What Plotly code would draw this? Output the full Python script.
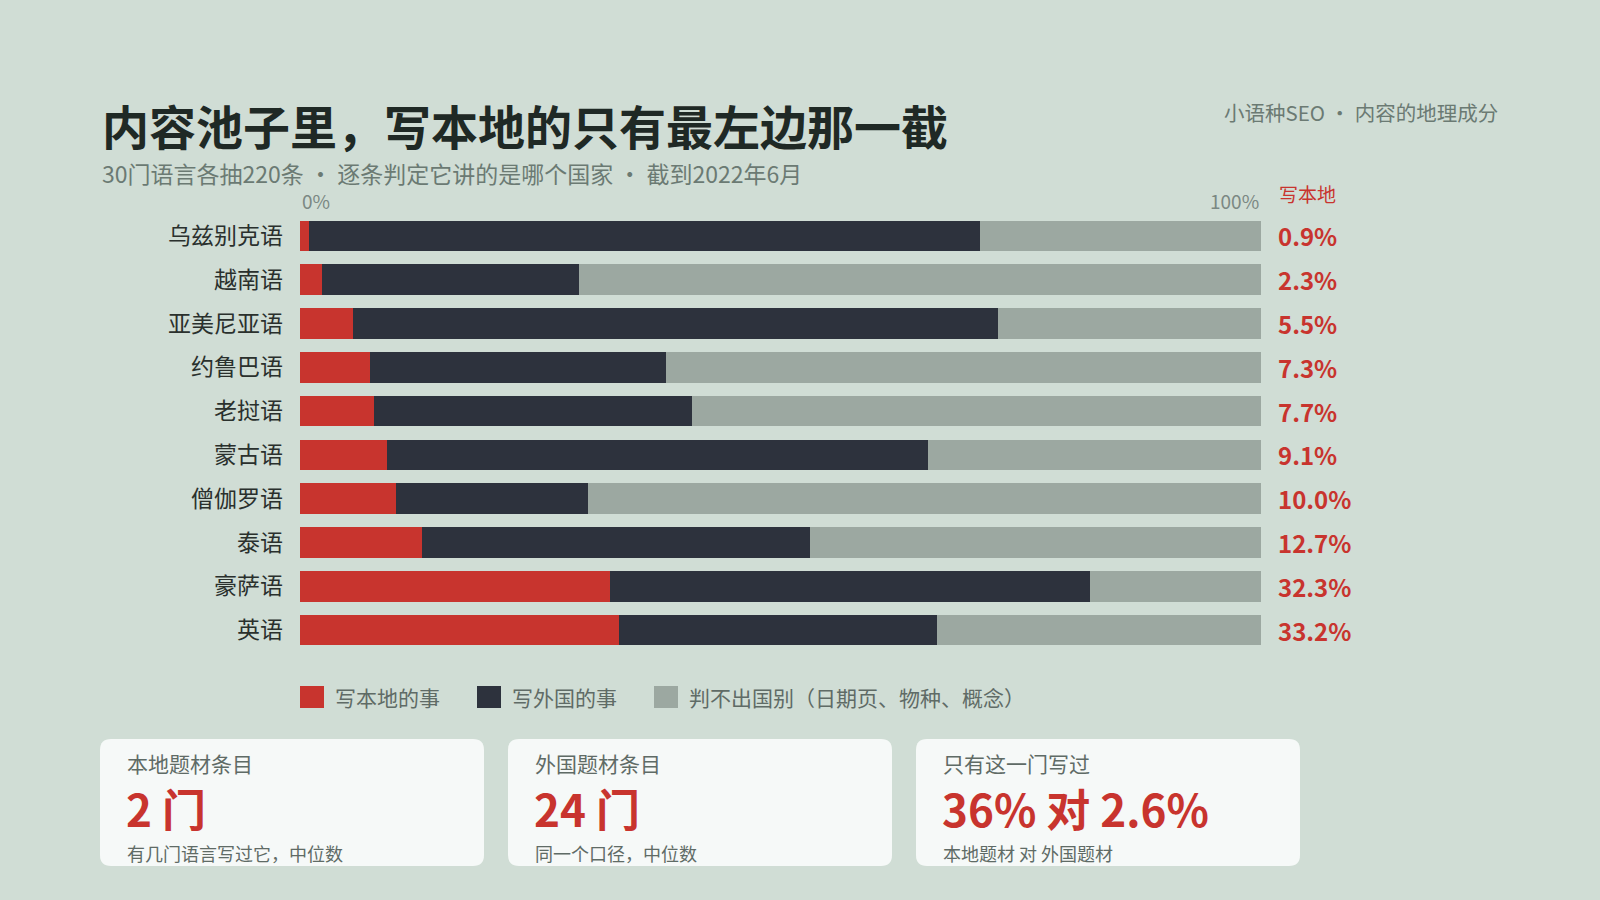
import plotly.graph_objects as go

W, H = 1600, 900

languages = ["乌兹别克语", "越南语", "亚美尼亚语", "约鲁巴语", "老挝语",
             "蒙古语", "僧伽罗语", "泰语", "豪萨语", "英语"]
local_pct = [0.9, 2.3, 5.5, 7.3, 7.7, 9.1, 10.0, 12.7, 32.3, 33.2]
foreign_pct = [69.9, 26.7, 67.1, 30.8, 33.1, 56.2, 20.0, 40.4, 49.9, 33.1]
unknown_pct = [29.2, 71.0, 27.4, 61.9, 59.2, 34.7, 70.0, 46.9, 17.8, 33.7]

series_names = ["写本地的事", "写外国的事", "判不出国别（日期页、物种、概念）"]
series_colors = ["#c8342e", "#2d323d", "#9ca8a1"]

card_labels = ["本地题材条目", "外国题材条目", "只有这一门写过"]
card_values = ["2 门", "24 门", "36% 对 2.6%"]
card_notes = ["有几门语言写过它，中位数", "同一个口径，中位数", "本地题材 对 外国题材"]

BG = "#d0ddd5"
FONT = "Noto Sans CJK SC"
GREY_TXT = "#5f6b66"


def px(x):
    return x / W


def py(y):
    return 1 - y / H


def rounded_rect(x0, y0, x1, y1, r):
    # pixel box -> svg path in paper coords
    rx, ry = r / W, r / H
    a, b, c, d = px(x0), py(y1), px(x1), py(y0)  # left, bottom, right, top
    return (f"M{a + rx},{b} L{c - rx},{b} Q{c},{b} {c},{b + ry} "
            f"L{c},{d - ry} Q{c},{d} {c - rx},{d} "
            f"L{a + rx},{d} Q{a},{d} {a},{d - ry} "
            f"L{a},{b + ry} Q{a},{b} {a + rx},{b} Z")


fig = go.Figure()
for name, vals, col in zip(series_names, [local_pct, foreign_pct, unknown_pct], series_colors):
    fig.add_trace(go.Bar(
        y=languages, x=vals, name=name, orientation="h",
        marker=dict(color=col, line=dict(width=0)),
        width=0.7, showlegend=False, hoverinfo="skip",
    ))

BAR_X0, BAR_X1 = 300, 1261
ROW_TOP, ROW_BOT = 214, 652

fig.update_layout(
    width=W, height=H,
    barmode="stack",
    paper_bgcolor=BG, plot_bgcolor="rgba(0,0,0,0)",
    margin=dict(l=0, r=0, t=0, b=0),
    font=dict(family=FONT, color="#2a302d"),
    xaxis=dict(range=[0, 100], domain=[px(BAR_X0), px(BAR_X1)], visible=False, fixedrange=True),
    yaxis=dict(type="category", categoryorder="array", categoryarray=languages,
               autorange="reversed", domain=[py(ROW_BOT), py(ROW_TOP)],
               showgrid=False, zeroline=False, showline=False, ticks="",
               tickfont=dict(size=23, color="#2a302d", family=FONT),
               ticklabelstandoff=16, fixedrange=True),
)

ann = []
# title block
ann.append(dict(x=px(100), y=py(125), text="<b>内容池子里，写本地的只有最左边那一截</b>",
                font=dict(size=47, color="#1f2925"), xanchor="left", yanchor="middle"))
ann.append(dict(x=px(100), y=py(173),
                text="30门语言各抽220条 ・ 逐条判定它讲的是哪个国家 ・ 截到2022年6月",
                font=dict(size=23, color="#6b7a73"), xanchor="left", yanchor="middle"))
ann.append(dict(x=px(1500), y=py(112), text="小语种SEO ・ 内容的地理成分",
                font=dict(size=20.5, color="#6b7a73"), xanchor="right", yanchor="middle"))

# axis end labels and column header
ann.append(dict(x=px(BAR_X0), y=py(200), text="0%", font=dict(size=19, color="#7b8883"),
                xanchor="left", yanchor="middle"))
ann.append(dict(x=px(BAR_X1), y=py(200), text="100%", font=dict(size=19, color="#7b8883"),
                xanchor="right", yanchor="middle"))
ann.append(dict(x=px(1277), y=py(193), text="写本地", font=dict(size=19, color="#c8342e"),
                xanchor="left", yanchor="middle"))

# local share values on the right
for lang, v in zip(languages, local_pct):
    ann.append(dict(x=px(1276), xref="paper", y=lang, yref="y", text=f"<b>{v:.1f}%</b>",
                    font=dict(size=24, color="#c8342e"), xanchor="left", yanchor="middle",
                    showarrow=False))

shapes = []
# legend
legend_x = [300, 477, 654]
for lx, name, col in zip(legend_x, series_names, series_colors):
    shapes.append(dict(type="rect", xref="paper", yref="paper",
                       x0=px(lx), x1=px(lx + 24), y0=py(708), y1=py(686),
                       fillcolor=col, line=dict(width=0)))
    ann.append(dict(x=px(lx + 33), y=py(697), text=name, font=dict(size=21, color=GREY_TXT),
                    xanchor="left", yanchor="middle"))

# stat cards
card_x = [100, 508, 916]
for cx, lab, val, note in zip(card_x, card_labels, card_values, card_notes):
    shapes.append(dict(type="path", xref="paper", yref="paper",
                       path=rounded_rect(cx, 739, cx + 384, 866, 11),
                       fillcolor="#f6f9f8", line=dict(width=0)))
    ann.append(dict(x=px(cx + 25), y=py(763), text=lab, font=dict(size=21, color=GREY_TXT),
                    xanchor="left", yanchor="middle"))
    ann.append(dict(x=px(cx + 24), y=py(808), text=f"<b>{val}</b>",
                    font=dict(size=44, color="#c8342e"), xanchor="left", yanchor="middle"))
    ann.append(dict(x=px(cx + 25), y=py(853), text=note, font=dict(size=18, color=GREY_TXT),
                    xanchor="left", yanchor="middle"))

for a in ann:
    a.setdefault("xref", "paper")
    a.setdefault("yref", "paper")
    a.setdefault("showarrow", False)

fig.update_layout(annotations=ann, shapes=shapes)

fig.write_html(
    "out.html",
    config={"displayModeBar": False},
    post_script=f"document.body.style.margin='0';document.body.style.background='{BG}';",
)
